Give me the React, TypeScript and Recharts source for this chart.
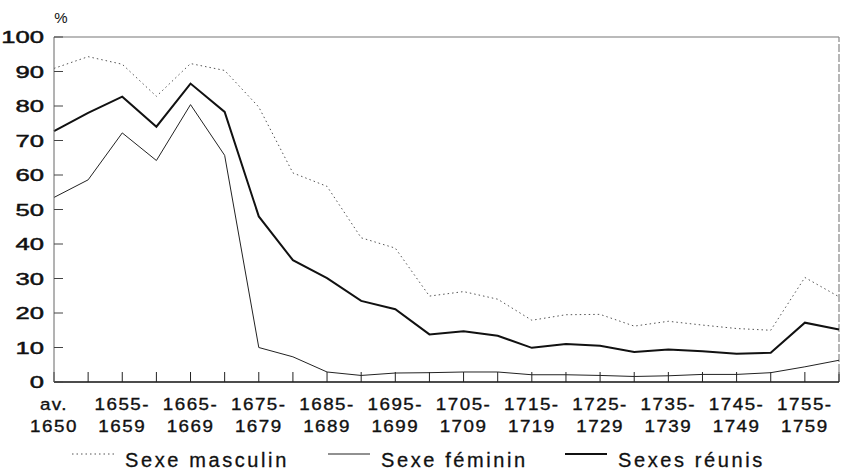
import { Label, Legend, Line, LineChart, ReferenceLine, XAxis, YAxis } from "recharts";

const periods = [
  "av. 1650",
  "1650-1654",
  "1655-1659",
  "1660-1664",
  "1665-1669",
  "1670-1674",
  "1675-1679",
  "1680-1684",
  "1685-1689",
  "1690-1694",
  "1695-1699",
  "1700-1704",
  "1705-1709",
  "1710-1714",
  "1715-1719",
  "1720-1724",
  "1725-1729",
  "1730-1734",
  "1735-1739",
  "1740-1744",
  "1745-1749",
  "1750-1754",
  "1755-1759",
  "1760-1764",
];

const masculin = [
  90.9, 94.3, 92.1, 82.8, 92.3, 90.3, 79.7, 60.6, 56.7, 41.8, 38.8, 24.9, 26.2, 24.0, 17.9,
  19.5, 19.6, 16.2, 17.6, 16.5, 15.5, 15.0, 30.3, 24.7,
];
const feminin = [
  53.5, 58.6, 72.2, 64.2, 80.4, 65.7, 10.0, 7.3, 2.9, 1.9, 2.6, 2.7, 2.9, 2.9, 2.1, 2.1, 1.9,
  1.6, 1.8, 2.2, 2.2, 2.7, 4.4, 6.3,
];
const reunis = [
  72.7, 78.0, 82.7, 74.0, 86.5, 78.3, 48.0, 35.3, 30.1, 23.5, 21.1, 13.8, 14.7, 13.4, 9.9, 11.0,
  10.5, 8.7, 9.4, 8.9, 8.2, 8.5, 17.2, 15.2,
];

const yTicks = [0, 10, 20, 30, 40, 50, 60, 70, 80, 90, 100];

const series = [
  { key: "masculin", name: "Sexe masculin", stroke: "#555", width: 1, dash: "1.5 3" },
  { key: "feminin", name: "Sexe féminin", stroke: "#222", width: 1, dash: undefined },
  { key: "reunis", name: "Sexes réunis", stroke: "#111", width: 2, dash: undefined },
];

const data = periods.map((p, i) => ({
  period: p,
  masculin: masculin[i],
  feminin: feminin[i],
  reunis: reunis[i],
}));

const FONT = "'Liberation Sans', Arial, sans-serif";

// only every other period gets a label, split over two lines
function PeriodTick(props: any) {
  const { x, y, payload, index } = props;
  if (index % 2 !== 0) return null;
  const v: string = payload.value;
  const lines = v.startsWith("av.") ? ["av.", v.slice(4)] : [v.slice(0, 5), v.slice(5)];
  return (
    <g transform={`translate(${x},${y})`}>
      {lines.map((t, k) => (
        <text
          key={k}
          x={0}
          y={28.5 + k * 21.5}
          textAnchor="middle"
          fontFamily={FONT}
          fontSize={16.5}
          letterSpacing={1.3}
          transform="scale(1.14,1)"
          fill="#111"
          stroke="#111"
          strokeWidth={0.35}
        >
          {t}
        </text>
      ))}
    </g>
  );
}

function PercentTick(props: any) {
  const { x, y, payload } = props;
  return (
    <text
      x={0}
      y={0}
      dy={6}
      textAnchor="end"
      fontFamily={FONT}
      fontSize={16}
      transform={`translate(${x},${y}) scale(1.6,1)`}
      fill="#111"
      stroke="#111"
      strokeWidth={0.45}
    >
      {payload.value}
    </text>
  );
}

const legendPos: Record<string, number> = { masculin: 72, feminin: 328, reunis: 565 };

function SeriesLegend() {
  return (
    <div style={{ position: "relative", height: 30, width: "100%" }}>
      {series.map((s) => (
        <div
          key={s.key}
          style={{
            position: "absolute",
            left: legendPos[s.key],
            top: 8,
            display: "flex",
            alignItems: "flex-start",
            fontFamily: FONT,
            fontSize: 20,
            letterSpacing: 2.6,
            color: "#111",
            WebkitTextStroke: "0.3px #111",
            lineHeight: "22px",
            whiteSpace: "nowrap",
          }}
        >
          <svg width={42} height={12} style={{ marginTop: 4, marginRight: 11 }}>
            <line
              x1={0}
              x2={42}
              y1={1}
              y2={1}
              stroke={s.stroke}
              strokeWidth={s.width}
              strokeDasharray={s.dash}
            />
          </svg>
          <span>{s.name}</span>
        </div>
      ))}
    </div>
  );
}

export default function App() {
  return (
    <div style={{ width: 841, height: 471, background: "#fff" }}>
      <style>{`body{margin:0}`}</style>
      <LineChart
        width={841}
        height={471}
        data={data}
        margin={{ top: 37, right: 2, left: 0, bottom: 0 }}
      >
        <ReferenceLine y={100} stroke="#777" strokeWidth={1.2} />
        <ReferenceLine x="1760-1764" stroke="#888" strokeWidth={1.2} strokeDasharray="8 2" />
        <XAxis
          dataKey="period"
          interval={0}
          height={59}
          tickSize={-10}
          tickMargin={10}
          tick={<PeriodTick />}
          axisLine={{ stroke: "#111", strokeWidth: 1.5 }}
          tickLine={{ stroke: "#222" }}
        />
        <YAxis
          domain={[0, 100]}
          ticks={yTicks}
          width={54}
          tickSize={-9}
          tickMargin={19}
          tick={<PercentTick />}
          axisLine={{ stroke: "#666" }}
          tickLine={{ stroke: "#444" }}
        >
          <Label
            value="%"
            position="top"
            offset={14}
            dx={34}
            fontFamily={FONT}
            fontSize={15}
            fill="#111"
          />
        </YAxis>
        <Legend verticalAlign="bottom" height={30} content={<SeriesLegend />} />
        {series.map((s) => (
          <Line
            key={s.key}
            type="linear"
            dataKey={s.key}
            name={s.name}
            stroke={s.stroke}
            strokeWidth={s.width}
            strokeDasharray={s.dash}
            dot={false}
            isAnimationActive={false}
          />
        ))}
      </LineChart>
    </div>
  );
}
